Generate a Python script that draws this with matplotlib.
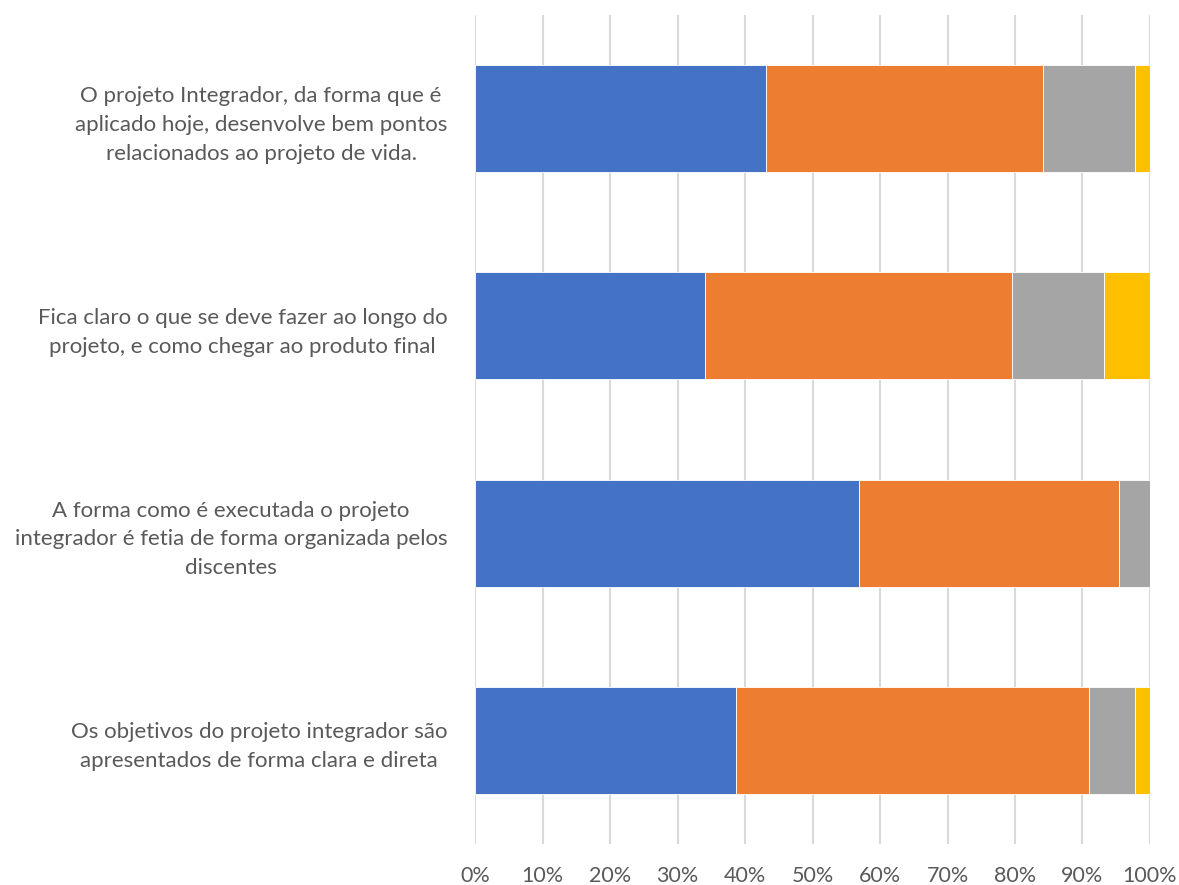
import numpy as np
import matplotlib
matplotlib.use('Agg')
import matplotlib.pyplot as plt
from matplotlib.ticker import PercentFormatter

plt.rcParams['font.family'] = ['Lato', 'DejaVu Sans']

# perguntas, de cima para baixo
perguntas = [
    'O projeto Integrador, da forma que é\naplicado hoje, desenvolve bem pontos\nrelacionados ao projeto de vida.',
    'Fica claro o que se deve fazer ao longo do\nprojeto, e como chegar ao produto final',
    'A forma como é executada o projeto\nintegrador é fetia de forma organizada pelos\ndiscentes',
    'Os objetivos do projeto integrador são\napresentados de forma clara e direta',
]

# respostas por pergunta (mesma ordem das perguntas)
resp_azul = [19, 15, 25, 17]
resp_laranja = [18, 20, 17, 23]
resp_cinza = [6, 6, 2, 3]
resp_amarelo = [1, 3, 0, 1]

cores = ['#4472C4', '#ED7D31', '#A5A5A5', '#FFC000']

dados = np.array([resp_azul, resp_laranja, resp_cinza, resp_amarelo], dtype=float)
pct = dados / dados.sum(axis=0) * 100

fig = plt.figure(figsize=(11.79, 8.85), dpi=100)
ax = fig.add_axes([0.4029, 0.0463, 0.5725, 0.937])

y = np.arange(len(perguntas))
esquerda = np.zeros(len(perguntas))
for serie, cor in zip(pct, cores):
    ax.barh(y, serie, left=esquerda, height=0.516, color=cor,
            edgecolor='white', linewidth=0.6, zorder=3)
    esquerda += serie

ax.set_xlim(0, 100)
ax.set_ylim(len(perguntas) - 0.5, -0.5)
ax.set_xticks(np.arange(0, 101, 10))
ax.xaxis.set_major_formatter(PercentFormatter(decimals=0))
ax.set_yticks(y)
ax.set_yticklabels(perguntas, fontsize=16, color='#595959')
for t in ax.get_yticklabels():
    t.set_multialignment('center')
    t.set_linespacing(1.55)
ax.tick_params(axis='y', length=0, pad=20)
ax.tick_params(axis='x', length=0, pad=16, labelsize=15.5, labelcolor='#595959')
ax.grid(axis='x', color='#D9D9D9', linewidth=1.5, zorder=0)
ax.set_axisbelow(True)
for s in ax.spines.values():
    s.set_visible(False)

plt.savefig('out.png', dpi=100)
